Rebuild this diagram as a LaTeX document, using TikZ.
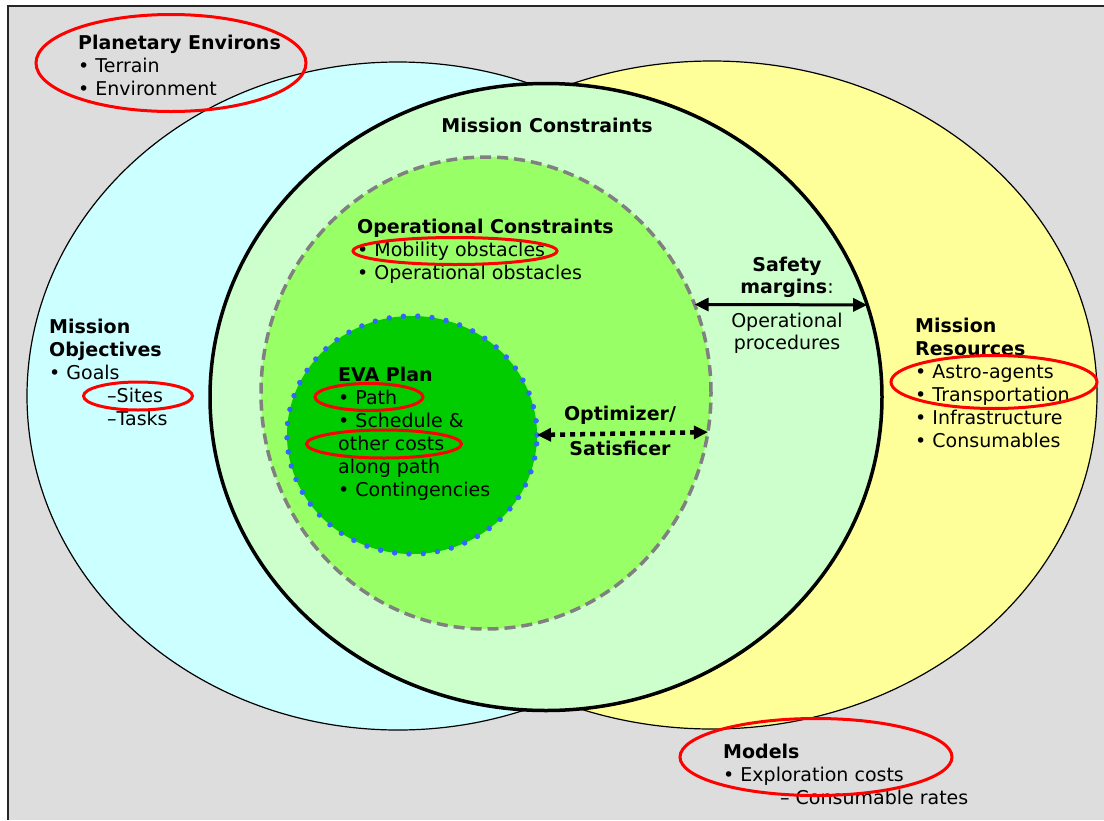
\documentclass[tikz,border=0pt]{standalone}
\usepackage{fontspec}
\setmainfont{DejaVu Sans}
\usetikzlibrary{arrows.meta,positioning,shapes.geometric}
\definecolor{bggray}{HTML}{DDDDDD}
\definecolor{objcyan}{HTML}{CCFFFF}
\definecolor{resyellow}{HTML}{FFFF99}
\definecolor{conlight}{HTML}{CCFFCC}
\definecolor{opgreen}{HTML}{99FF66}
\definecolor{evagreen}{HTML}{00CC00}
\definecolor{dotblue}{HTML}{3366FF}
\tikzset{
    %Define standard arrow tip
    >={Triangle[length=14pt,width=13pt]},
    %Define style for the regions
    region/.style={
           ellipse,
           draw=black,
           line width=1.2pt,
           inner sep=0pt,
           outer sep=0pt},
    opregion/.style={
           region,
           draw=gray,
           line width=3.5pt,
           dash pattern=on 11pt off 6pt,
           fill=opgreen},
    evaregion/.style={
           region,
           draw=dotblue,
           line width=5.5pt,
           line cap=round,
           dash pattern=on 0pt off 14.3pt,
           fill=evagreen},
    highlight/.style={
           ellipse,
           draw=red,
           line width=3pt,
           inner sep=0pt},
    %Define style for texts
    body/.style={
           anchor=north west,
           inner sep=0pt,
           align=left,
           font=\fontsize{19}{23}\selectfont},
    heading/.style={
           inner sep=0pt,
           font=\fontsize{19}{23}\selectfont\bfseries},
    % Define arrow style
    twoway/.style={
           <->,
           line width=3pt},
    dotway/.style={
           <->,
           line width=4.5pt,
           dash pattern=on 5pt off 5pt}
}

\begin{document}
\begin{tikzpicture}[x=1pt,y=-1pt]
\useasboundingbox (0,0) rectangle (1104,820);
\fill[bggray] (8,6) rectangle (1104,820);
\draw[line width=2pt, black!85] (8,820) -- (8,6) -- (1104,6);

% regions
\node[region, fill=objcyan, minimum width=742pt, minimum height=668pt] (obj) at (398,396) {};
\node[region, fill=resyellow, minimum width=770pt, minimum height=668pt] (res) at (712,395) {};
\node[region, fill=conlight, line width=3.5pt, minimum width=672pt, minimum height=627pt] (mc) at (546,397) {};
\node[opregion, minimum width=450pt, minimum height=472pt] (opc) at (486,393) {};
\node[evaregion, minimum width=250pt, minimum height=238pt] (eva) at (412,435) {};

% texts
\node[body] (envtxt) at (78,33) {\strut\textbf{Planetary Environs}\\• Terrain\\• Environment};
\node[body] (objtxt) at (49,317) {\strut\textbf{Mission}\\\textbf{Objectives}\\• Goals\\\hspace*{58pt}–Sites\\\hspace*{58pt}–Tasks};
\node[heading, anchor=base] (mctxt) at (547,132) {Mission Constraints};
\node[body] (optxt) at (357,217) {\strut\textbf{Operational Constraints}\\• Mobility obstacles\\• Operational obstacles};
\node[body] (evatxt) at (338,365) {\strut\textbf{EVA Plan}\\• Path\\• Schedule \&\\other costs\\along path\\• Contingencies};
\node[heading, anchor=base] (opttxt) at (620,420) {Optimizer/};
\node[heading, anchor=base] (sattxt) at (620,455) {Satisficer};
\node[body, align=center, anchor=north, font=\fontsize{19}{22}\selectfont] (safetxt) at (787,256) {\strut\textbf{Safety}\\\textbf{margins}:};
\node[body, align=center, anchor=north, font=\fontsize{19}{22}\selectfont] (proctxt) at (787,312) {\strut Operational\\procedures};
\node[body] (restxt) at (915,316) {\strut\textbf{Mission}\\\textbf{Resources}\\• Astro-agents\\• Transportation\\• Infrastructure\\• Consumables};
\node[body] (modtxt) at (723,742) {\strut\textbf{Models}\\• Exploration costs\\\hspace*{57pt}– Consumable rates};

% arrows
\path
    (opc.23) edge[twoway] (mc.16)
    (eva.east) edge[dotway] (opc.-10.5);

% highlights
\node[highlight, minimum width=270pt, minimum height=97pt] (hlenv) at (171,63) {};
\node[highlight, minimum width=204pt, minimum height=27pt] (hlmob) at (455,251) {};
\node[highlight, minimum width=108pt, minimum height=27pt] (hlpath) at (369,397) {};
\node[highlight, minimum width=155pt, minimum height=28pt] (hlcost) at (384,444) {};
\node[highlight, minimum width=109pt, minimum height=28pt] (hlsite) at (138,396) {};
\node[highlight, minimum width=206pt, minimum height=53pt] (hlres) at (994,382) {};
\node[highlight, minimum width=272pt, minimum height=77pt] (hlmod) at (816,757) {};
\end{tikzpicture}
\end{document}
